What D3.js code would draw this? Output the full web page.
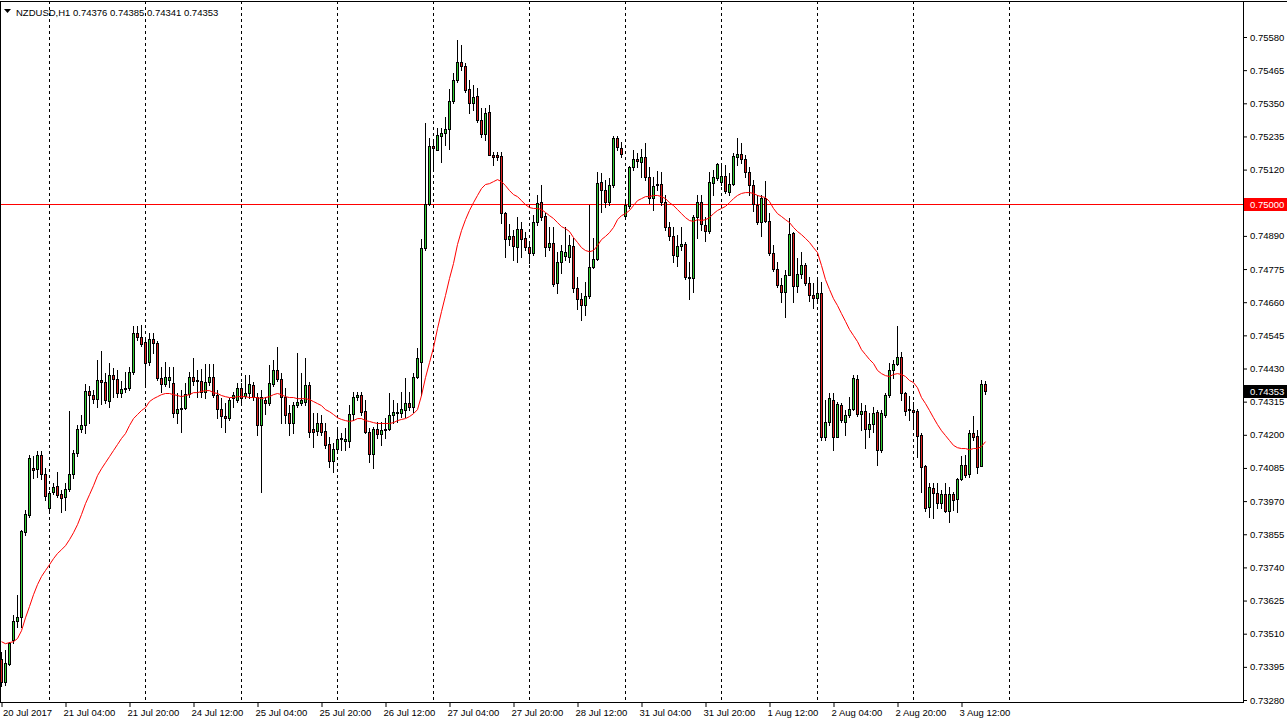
<!DOCTYPE html>
<html><head><meta charset="utf-8">
<script src="https://cdn.jsdelivr.net/npm/d3@7"></script>
<style>
body{margin:0;background:#fff;}
svg{display:block;}
text{font-family:"Liberation Sans",Arial,sans-serif;font-size:9.5px;fill:#000;}
</style>
</head><body>
<svg id="c" width="1287" height="721"></svg>
<script>
const symbol = "NZDUSD,H1";
const firstBarTime = "2017-07-20 12:00";
const opens = [0.73422,0.73342,0.73404,0.73488,0.73554,0.73567,0.73862,0.73921,0.74084,0.74081,0.74130,0.74064,0.73946,0.74001,0.74022,0.73994,0.73984,0.74012,0.74064,0.74137,0.74220,0.74234,0.74352,0.74338,0.74324,0.74390,0.74383,0.74317,0.74407,0.74393,0.74345,0.74359,0.74362,0.74418,0.74553,0.74539,0.74522,0.74452,0.74532,0.74518,0.74397,0.74376,0.74390,0.74379,0.74275,0.74293,0.74293,0.74341,0.74400,0.74390,0.74386,0.74348,0.74383,0.74400,0.74338,0.74289,0.74265,0.74258,0.74327,0.74320,0.74362,0.74334,0.74345,0.74372,0.74331,0.74234,0.74320,0.74310,0.74376,0.74425,0.74393,0.74331,0.74275,0.74241,0.74303,0.74310,0.74314,0.74372,0.74220,0.74213,0.74241,0.74213,0.74168,0.74109,0.74150,0.74185,0.74178,0.74178,0.74272,0.74331,0.74338,0.74282,0.74209,0.74133,0.74220,0.74202,0.74216,0.74220,0.74268,0.74275,0.74275,0.74286,0.74310,0.74296,0.74400,0.74452,0.74848,0.75000,0.75202,0.75188,0.75236,0.75247,0.75261,0.75358,0.75431,0.75493,0.75479,0.75400,0.75351,0.75375,0.75292,0.75243,0.75320,0.75171,0.75171,0.75167,0.74969,0.74879,0.74890,0.74851,0.74914,0.74883,0.74851,0.74830,0.74938,0.75007,0.74959,0.74851,0.74865,0.74726,0.74799,0.74820,0.74817,0.74855,0.74709,0.74671,0.74650,0.74681,0.74782,0.74810,0.75077,0.75049,0.75007,0.75066,0.75230,0.75195,0.74959,0.74994,0.75129,0.75157,0.75146,0.75164,0.75094,0.75021,0.75066,0.75070,0.75007,0.74921,0.74890,0.74820,0.74855,0.74862,0.74747,0.74744,0.74955,0.75007,0.74928,0.74907,0.75073,0.75091,0.75077,0.75098,0.75042,0.75070,0.75164,0.75174,0.75157,0.75112,0.75066,0.74997,0.74938,0.75021,0.74942,0.74830,0.74775,0.74719,0.74695,0.74754,0.74900,0.74716,0.74758,0.74789,0.74726,0.74685,0.74674,0.74692,0.74192,0.74244,0.74320,0.74192,0.74303,0.74244,0.74268,0.74289,0.74393,0.74272,0.74282,0.74220,0.74237,0.74279,0.74147,0.74268,0.74338,0.74425,0.74445,0.74470,0.74345,0.74289,0.74286,0.74282,0.74199,0.74091,0.73949,0.74015,0.73998,0.73963,0.73994,0.73935,0.73994,0.73977,0.74046,0.74095,0.74064,0.74206,0.74195,0.74091,0.74376];
const highs = [0.73446,0.73453,0.73481,0.73574,0.73644,0.73869,0.73939,0.74130,0.74126,0.74143,0.74143,0.74084,0.74005,0.74032,0.74071,0.74008,0.74032,0.74282,0.74147,0.74234,0.74268,0.74376,0.74369,0.74355,0.74459,0.74490,0.74414,0.74449,0.74431,0.74425,0.74386,0.74418,0.74435,0.74577,0.74577,0.74581,0.74529,0.74553,0.74553,0.74525,0.74435,0.74452,0.74435,0.74435,0.74345,0.74355,0.74379,0.74418,0.74466,0.74425,0.74428,0.74445,0.74445,0.74445,0.74355,0.74327,0.74310,0.74327,0.74348,0.74379,0.74379,0.74407,0.74407,0.74383,0.74345,0.74355,0.74331,0.74442,0.74459,0.74504,0.74414,0.74362,0.74303,0.74314,0.74483,0.74414,0.74466,0.74383,0.74275,0.74275,0.74268,0.74241,0.74192,0.74171,0.74223,0.74206,0.74223,0.74303,0.74348,0.74348,0.74348,0.74320,0.74223,0.74227,0.74244,0.74244,0.74258,0.74345,0.74320,0.74310,0.74348,0.74397,0.74348,0.74414,0.74501,0.74879,0.75282,0.75230,0.75223,0.75264,0.75264,0.75302,0.75400,0.75455,0.75570,0.75552,0.75490,0.75431,0.75413,0.75403,0.75334,0.75334,0.75344,0.75181,0.75181,0.75181,0.74973,0.74931,0.74910,0.74955,0.74938,0.74903,0.74865,0.74962,0.75032,0.75066,0.74969,0.74921,0.74921,0.74834,0.74858,0.74921,0.74893,0.74883,0.74747,0.74692,0.74730,0.74997,0.74883,0.75112,0.75108,0.75084,0.75091,0.75236,0.75236,0.75216,0.75014,0.75133,0.75188,0.75177,0.75191,0.75212,0.75129,0.75094,0.75115,0.75112,0.75032,0.74938,0.74921,0.74893,0.74921,0.74869,0.74799,0.74962,0.75032,0.75032,0.74955,0.75112,0.75119,0.75143,0.75143,0.75136,0.75108,0.75177,0.75230,0.75212,0.75171,0.75129,0.75084,0.75032,0.75032,0.75080,0.74969,0.74858,0.74799,0.74744,0.74772,0.74952,0.74903,0.74813,0.74834,0.74796,0.74747,0.74726,0.74737,0.74730,0.74320,0.74345,0.74345,0.74314,0.74310,0.74286,0.74331,0.74407,0.74407,0.74310,0.74303,0.74275,0.74296,0.74286,0.74286,0.74345,0.74449,0.74459,0.74577,0.74487,0.74348,0.74334,0.74314,0.74289,0.74206,0.74095,0.74032,0.74032,0.74032,0.74008,0.74032,0.74019,0.74001,0.74050,0.74126,0.74130,0.74216,0.74265,0.74216,0.74390,0.74385];
const lows = [0.73328,0.73331,0.73401,0.73477,0.73533,0.73533,0.73852,0.73914,0.74050,0.74053,0.74046,0.73973,0.73932,0.73994,0.73984,0.73932,0.73939,0.74005,0.74050,0.74126,0.74209,0.74206,0.74241,0.74310,0.74296,0.74307,0.74310,0.74296,0.74331,0.74331,0.74331,0.74348,0.74355,0.74411,0.74529,0.74508,0.74376,0.74442,0.74483,0.74390,0.74348,0.74369,0.74365,0.74261,0.74241,0.74209,0.74289,0.74331,0.74372,0.74331,0.74331,0.74327,0.74372,0.74331,0.74258,0.74227,0.74209,0.74251,0.74296,0.74314,0.74314,0.74327,0.74327,0.74320,0.74199,0.74001,0.74272,0.74303,0.74369,0.74386,0.74241,0.74241,0.74199,0.74206,0.74296,0.74303,0.74303,0.74192,0.74157,0.74199,0.74199,0.74154,0.74088,0.74071,0.74140,0.74147,0.74147,0.74157,0.74251,0.74320,0.74268,0.74206,0.74105,0.74084,0.74189,0.74165,0.74189,0.74216,0.74241,0.74244,0.74261,0.74261,0.74286,0.74279,0.74397,0.74338,0.74841,0.74997,0.75125,0.75188,0.75146,0.75205,0.75191,0.75351,0.75424,0.75466,0.75389,0.75316,0.75327,0.75285,0.75233,0.75223,0.75171,0.75136,0.75153,0.74935,0.74817,0.74858,0.74806,0.74799,0.74817,0.74841,0.74796,0.74824,0.74928,0.74945,0.74820,0.74841,0.74716,0.74692,0.74761,0.74806,0.74799,0.74695,0.74636,0.74598,0.74615,0.74674,0.74778,0.74806,0.74973,0.74989,0.74997,0.75060,0.75188,0.75164,0.74952,0.74987,0.75118,0.75129,0.75094,0.75084,0.75004,0.74980,0.75049,0.74997,0.74910,0.74876,0.74799,0.74785,0.74841,0.74740,0.74671,0.74695,0.74883,0.74910,0.74872,0.74900,0.75032,0.75084,0.75066,0.75039,0.75032,0.75066,0.75136,0.75143,0.75094,0.75032,0.74976,0.74931,0.74890,0.74938,0.74824,0.74768,0.74713,0.74661,0.74608,0.74754,0.74661,0.74695,0.74744,0.74719,0.74664,0.74640,0.74667,0.74182,0.74182,0.74234,0.74147,0.74192,0.74244,0.74199,0.74261,0.74286,0.74265,0.74216,0.74154,0.74192,0.74209,0.74095,0.74140,0.74261,0.74331,0.74397,0.74442,0.74320,0.74268,0.74251,0.74230,0.74123,0.74001,0.73935,0.73914,0.73911,0.73946,0.73946,0.73932,0.73897,0.73939,0.73932,0.74043,0.74053,0.74053,0.74182,0.74067,0.74091,0.74341];
const closes = [0.73342,0.73408,0.73477,0.73554,0.73567,0.73866,0.73925,0.74119,0.74077,0.74130,0.74064,0.73987,0.73998,0.74019,0.73991,0.73980,0.74012,0.74064,0.74137,0.74220,0.74234,0.74352,0.74338,0.74324,0.74390,0.74383,0.74320,0.74407,0.74393,0.74345,0.74359,0.74362,0.74418,0.74553,0.74539,0.74515,0.74449,0.74532,0.74518,0.74397,0.74376,0.74400,0.74400,0.74275,0.74289,0.74289,0.74341,0.74400,0.74386,0.74386,0.74348,0.74383,0.74400,0.74338,0.74289,0.74265,0.74258,0.74320,0.74338,0.74362,0.74327,0.74345,0.74376,0.74331,0.74234,0.74331,0.74310,0.74379,0.74425,0.74393,0.74331,0.74268,0.74241,0.74303,0.74314,0.74320,0.74372,0.74209,0.74209,0.74241,0.74209,0.74165,0.74109,0.74150,0.74185,0.74189,0.74185,0.74272,0.74331,0.74338,0.74279,0.74209,0.74133,0.74220,0.74202,0.74216,0.74220,0.74268,0.74279,0.74279,0.74289,0.74310,0.74296,0.74400,0.74466,0.74848,0.75000,0.75202,0.75195,0.75240,0.75247,0.75261,0.75358,0.75431,0.75493,0.75479,0.75396,0.75351,0.75372,0.75292,0.75243,0.75316,0.75171,0.75164,0.75164,0.74969,0.74879,0.74890,0.74855,0.74914,0.74879,0.74851,0.74830,0.74938,0.75004,0.74955,0.74851,0.74865,0.74723,0.74799,0.74837,0.74834,0.74858,0.74709,0.74671,0.74650,0.74681,0.74782,0.74810,0.75073,0.75049,0.75007,0.75066,0.75230,0.75198,0.75174,0.74997,0.75129,0.75157,0.75150,0.75164,0.75094,0.75021,0.75063,0.75070,0.75007,0.74921,0.74890,0.74824,0.74855,0.74862,0.74747,0.74744,0.74955,0.75007,0.74931,0.74907,0.75077,0.75094,0.75139,0.75098,0.75046,0.75070,0.75167,0.75174,0.75157,0.75112,0.75066,0.75000,0.74938,0.75021,0.74942,0.74830,0.74775,0.74719,0.74695,0.74754,0.74896,0.74716,0.74758,0.74789,0.74726,0.74685,0.74674,0.74692,0.74192,0.74244,0.74327,0.74192,0.74307,0.74251,0.74268,0.74289,0.74397,0.74272,0.74282,0.74220,0.74237,0.74275,0.74147,0.74275,0.74338,0.74425,0.74445,0.74470,0.74345,0.74282,0.74286,0.74279,0.74195,0.74088,0.73946,0.74019,0.73998,0.73963,0.73994,0.73935,0.73994,0.73973,0.74046,0.74095,0.74060,0.74206,0.74192,0.74088,0.74376,0.74353];
const maValues = [0.73484,0.73477,0.73481,0.73484,0.73495,0.73522,0.73567,0.73606,0.73647,0.73682,0.73710,0.73731,0.73751,0.73772,0.73790,0.73803,0.73817,0.73838,0.73862,0.73890,0.73925,0.73963,0.73994,0.74025,0.74060,0.74084,0.74105,0.74126,0.74147,0.74168,0.74189,0.74206,0.74234,0.74258,0.74272,0.74286,0.74296,0.74317,0.74327,0.74334,0.74341,0.74345,0.74345,0.74341,0.74338,0.74334,0.74338,0.74341,0.74348,0.74348,0.74352,0.74355,0.74355,0.74348,0.74345,0.74338,0.74334,0.74331,0.74331,0.74334,0.74334,0.74334,0.74331,0.74331,0.74331,0.74327,0.74331,0.74334,0.74341,0.74345,0.74341,0.74334,0.74331,0.74331,0.74327,0.74327,0.74327,0.74324,0.74317,0.74310,0.74303,0.74289,0.74282,0.74272,0.74261,0.74255,0.74251,0.74248,0.74251,0.74258,0.74258,0.74251,0.74248,0.74244,0.74241,0.74241,0.74241,0.74241,0.74244,0.74251,0.74255,0.74258,0.74265,0.74275,0.74289,0.74338,0.74400,0.74452,0.74504,0.74570,0.74629,0.74685,0.74744,0.74796,0.74862,0.74910,0.74948,0.74980,0.75007,0.75032,0.75056,0.75070,0.75073,0.75080,0.75087,0.75080,0.75066,0.75049,0.75035,0.75028,0.75014,0.75000,0.74990,0.74987,0.74987,0.74983,0.74973,0.74962,0.74952,0.74938,0.74924,0.74917,0.74907,0.74886,0.74869,0.74851,0.74841,0.74837,0.74841,0.74858,0.74879,0.74890,0.74903,0.74921,0.74948,0.74962,0.74969,0.74980,0.74997,0.75014,0.75021,0.75028,0.75028,0.75032,0.75032,0.75028,0.75021,0.75007,0.74997,0.74983,0.74969,0.74955,0.74945,0.74942,0.74948,0.74945,0.74948,0.74955,0.74969,0.74980,0.74987,0.74994,0.75007,0.75021,0.75032,0.75039,0.75042,0.75042,0.75039,0.75032,0.75028,0.75025,0.75011,0.74987,0.74969,0.74959,0.74948,0.74938,0.74921,0.74907,0.74896,0.74883,0.74869,0.74851,0.74834,0.74789,0.74740,0.74706,0.74674,0.74650,0.74622,0.74595,0.74567,0.74546,0.74525,0.74497,0.74480,0.74463,0.74449,0.74425,0.74414,0.74407,0.74404,0.74411,0.74414,0.74411,0.74404,0.74390,0.74383,0.74365,0.74331,0.74310,0.74286,0.74261,0.74237,0.74216,0.74199,0.74182,0.74165,0.74157,0.74154,0.74154,0.74150,0.74154,0.74154,0.74161,0.74178];
const yTicks = [0.75580,0.75465,0.75350,0.75235,0.75120,0.74890,0.74775,0.74660,0.74545,0.74430,0.74315,0.74200,0.74085,0.73970,0.73855,0.73740,0.73625,0.73510,0.73395,0.73280];
const xTickLabels = ["20 Jul 2017","21 Jul 04:00","21 Jul 20:00","24 Jul 12:00","25 Jul 04:00","25 Jul 20:00","26 Jul 12:00","27 Jul 04:00","27 Jul 20:00","28 Jul 12:00","31 Jul 04:00","31 Jul 20:00","1 Aug 12:00","2 Aug 04:00","2 Aug 20:00","3 Aug 12:00"];
const levelLine = 0.75000;

const bullColor = "#32cd32", bearColor = "#dc1e1e", maColor = "#ff0000";
const plotLeft = 0, plotRight = 1243, plotTop = 1, plotBottom = 702;

const svg = d3.select("#c");
const n = opens.length;

// bar times (hourly, weekends skipped) — used for labels and day separators
const t0 = d3.utcParse("%Y-%m-%d %H:%M")(firstBarTime);
const times = [];
let t = new Date(t0);
while (times.length < n + 8) {
  const wd = t.getUTCDay();
  if (wd !== 0 && wd !== 6) times.push(new Date(t));
  t = new Date(t.getTime() + 3600e3);
}

const x = d3.scaleLinear().domain([0, n - 1]).range([1, 1 + 4 * (n - 1)]);
const y = d3.scaleLinear().domain([0.73280, 0.75580]).range([700, 37]);
const py = v => Math.round(y(v));

svg.append("rect").attr("x", 0).attr("y", 0).attr("width", 1287).attr("height", 721).attr("fill", "#fff");

// day separators
const sepIdx = times.map((d, i) => (i > 0 && d.getUTCHours() === 0) ? i : -1).filter(i => i >= 0);
svg.append("g").selectAll("line").data(sepIdx).join("line")
  .attr("x1", d => x(d) + 0.5).attr("x2", d => x(d) + 0.5)
  .attr("y1", plotTop).attr("y2", plotBottom)
  .attr("stroke", "#000").attr("stroke-width", 1).attr("stroke-dasharray", "3,3")
  .attr("shape-rendering", "crispEdges");

// level line
svg.append("line").attr("x1", plotLeft).attr("x2", plotRight)
  .attr("y1", py(levelLine) + 0.5).attr("y2", py(levelLine) + 0.5)
  .attr("stroke", "#ff0000").attr("shape-rendering", "crispEdges");

// candles
const bars = d3.range(n).map(i => ({i, o: opens[i], h: highs[i], l: lows[i], c: closes[i]}));
const cg = svg.append("g").attr("shape-rendering", "crispEdges");
const cand = cg.selectAll("g").data(bars).join("g");
cand.append("rect")
  .attr("x", d => x(d.i)).attr("width", 1)
  .attr("y", d => py(d.h)).attr("height", d => py(d.l) - py(d.h) + 1)
  .attr("fill", "#000");
cand.append("rect")
  .attr("x", d => x(d.i) - 1).attr("width", 3)
  .attr("y", d => py(Math.max(d.o, d.c)))
  .attr("height", d => py(Math.min(d.o, d.c)) - py(Math.max(d.o, d.c)) + 1)
  .attr("fill", "#000");
cand.filter(d => py(Math.min(d.o, d.c)) - py(Math.max(d.o, d.c)) >= 2).append("rect")
  .attr("x", d => x(d.i)).attr("width", 1)
  .attr("y", d => py(Math.max(d.o, d.c)) + 1)
  .attr("height", d => py(Math.min(d.o, d.c)) - py(Math.max(d.o, d.c)) - 1)
  .attr("fill", d => d.c >= d.o ? bullColor : bearColor);

// moving average
svg.append("path").datum(maValues)
  .attr("d", d3.line().x((d, i) => x(i) + 0.5).y(d => y(d) + 0.5))
  .attr("fill", "none").attr("stroke", maColor).attr("stroke-width", 1);

// borders
svg.append("line").attr("x1", plotRight + 0.5).attr("x2", plotRight + 0.5).attr("y1", plotTop).attr("y2", plotBottom + 1)
  .attr("stroke", "#000").attr("shape-rendering", "crispEdges");
svg.append("line").attr("x1", 0).attr("x2", plotRight + 1).attr("y1", plotBottom + 0.5).attr("y2", plotBottom + 0.5)
  .attr("stroke", "#000").attr("shape-rendering", "crispEdges");
svg.append("line").attr("x1", 0).attr("x2", 1287).attr("y1", plotTop + 0.5).attr("y2", plotTop + 0.5)
  .attr("stroke", "#000").attr("shape-rendering", "crispEdges");
svg.append("line").attr("x1", 0.5).attr("x2", 0.5).attr("y1", plotTop).attr("y2", plotBottom)
  .attr("stroke", "#000").attr("shape-rendering", "crispEdges");

// y axis
const yAxis = d3.axisRight(y).tickValues(yTicks).tickSize(3).tickPadding(3).tickFormat(d3.format(".5f"));
const yg = svg.append("g").attr("transform", `translate(${plotRight + 1},0)`).call(yAxis);
yg.select(".domain").remove();
yg.attr("font-size", null).attr("font-family", null);

// x axis
const fmt = d3.utcFormat("%-d %b %H:%M");
const labelIdx = xTickLabels.map((lab, k) => k === 0 ? 0 : times.findIndex(d => fmt(d) === lab));
const xAxis = d3.axisBottom(x).tickValues(labelIdx).tickSize(4).tickPadding(2)
  .tickFormat((d, k) => xTickLabels[k]);
const xg = svg.append("g").attr("transform", `translate(0.5,${plotBottom + 1})`).call(xAxis);
xg.select(".domain").remove();
xg.selectAll("text").attr("text-anchor", "start").attr("x", (d, k) => k === 0 ? 1 : -2.5);
xg.attr("font-size", null).attr("font-family", null);

// level label
const lvY = py(levelLine);
svg.append("rect").attr("x", plotRight + 1).attr("y", lvY - 6).attr("width", 1287 - plotRight - 1).attr("height", 13).attr("fill", "#ff0000");
svg.append("text").attr("x", plotRight + 7).attr("y", lvY + 0.5).attr("dy", "0.35em").style("fill", "#fff").text(d3.format(".5f")(levelLine));

// current price label
const last = closes[n - 1];
const cy = py(last);
svg.append("rect").attr("x", plotRight + 1).attr("y", cy - 6).attr("width", 1287 - plotRight - 1).attr("height", 13).attr("fill", "#000");
svg.append("text").attr("x", plotRight + 7).attr("y", cy + 0.5).attr("dy", "0.35em").style("fill", "#fff").text(d3.format(".5f")(last));

// header
svg.append("path").attr("d", "M4,9 L11,9 L7.5,13 Z").attr("fill", "#000");
const f5 = d3.format(".5f");
svg.append("text").attr("x", 16).attr("y", 16)
  .text(`${symbol}  ${f5(opens[n-1])} ${f5(highs[n-1])} ${f5(lows[n-1])} ${f5(closes[n-1])}`);
</script>
</body></html>
